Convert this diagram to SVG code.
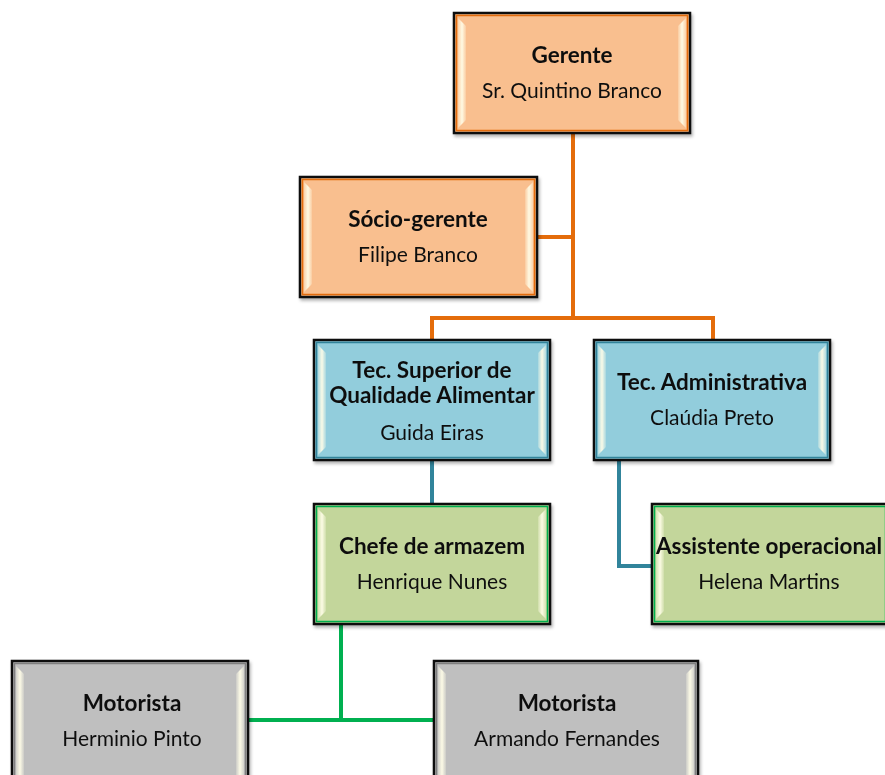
<svg xmlns="http://www.w3.org/2000/svg" width="885" height="775" viewBox="0 0 885 775">
<defs>
<style>
.frame{stroke:#111;stroke-width:2.5}
.t{font-family:Lato,"Liberation Sans",sans-serif;font-size:21px;fill:#111;text-anchor:middle}
.b{font-weight:bold;font-size:22.5px}
.or .frame{fill:#F9BF8F}.or .in{fill:none;stroke:#E46C0A;stroke-width:1.5}
.bl .frame{fill:#92CDDC}.bl .in{fill:none;stroke:#31849B;stroke-width:1.5}
.gr .frame{fill:#C3D69B}.gr .in{fill:none;stroke:#00B050;stroke-width:1.5}
.gy .frame{fill:#BFBFBF}.gy .in{fill:none;stroke:#7F7F7F;stroke-width:1.5}
.hl{fill:url(#hg)}
.hr{fill:url(#hgr)}
.co{fill:none;stroke-width:4;stroke-linejoin:miter}
</style>
<linearGradient id="hg" x1="0" y1="0" x2="1" y2="0">
<stop offset="0" stop-color="#FFFDE8" stop-opacity="0.3"/>
<stop offset="0.5" stop-color="#FFFDE8" stop-opacity="0.95"/>
<stop offset="1" stop-color="#FFFDE8" stop-opacity="0.2"/>
</linearGradient>
<linearGradient id="hgr" x1="1" y1="0" x2="0" y2="0">
<stop offset="0" stop-color="#FFFDE8" stop-opacity="0.3"/>
<stop offset="0.5" stop-color="#FFFDE8" stop-opacity="0.95"/>
<stop offset="1" stop-color="#FFFDE8" stop-opacity="0.2"/>
</linearGradient>
<filter id="sh" x="-5%" y="-5%" width="115%" height="120%">
<feDropShadow dx="1.5" dy="2.5" stdDeviation="1.5" flood-color="#000" flood-opacity="0.3"/>
</filter>
</defs>

<g id="connectors">
<path class="co" stroke="#E46C0A" d="M573 133 V318 M537 237 H573 M432 340 V318 H713 V340"/>
<path class="co" stroke="#31849B" d="M432 460 V504 M619 460 V566 H652"/>
<path class="co" stroke="#00B050" d="M341 624 V720 M248 720 H434"/>
</g>

<g id="gerente" class="or" filter="url(#sh)">
<rect class="frame" x="454" y="13" width="236" height="120"/>
<rect class="in" x="456.5" y="15.5" width="231" height="115"/>
<polygon class="hl" points="458,18 466,26 466,120 458,128"/>
<polygon class="hr" points="686,18 678,26 678,120 686,128"/>
<text class="t b" x="572" y="63">Gerente</text>
<text class="t" x="572" y="98">Sr. Quintino Branco</text>
</g>

<g id="socio" class="or" filter="url(#sh)">
<rect class="frame" x="300" y="177" width="237" height="120"/>
<rect class="in" x="302.5" y="179.5" width="232" height="115"/>
<polygon class="hl" points="304,182 312,190 312,284 304,292"/>
<polygon class="hr" points="533,182 525,190 525,284 533,292"/>
<text class="t b" x="418" y="227">Sócio-gerente</text>
<text class="t" x="418" y="262">Filipe Branco</text>
</g>

<g id="tec-superior" class="bl" filter="url(#sh)">
<rect class="frame" x="314" y="340" width="236" height="120"/>
<rect class="in" x="316.5" y="342.5" width="231" height="115"/>
<polygon class="hl" points="318,345 326,353 326,447 318,455"/>
<polygon class="hr" points="546,345 538,353 538,447 546,455"/>
<text class="t b" x="432" y="378">Tec. Superior de</text>
<text class="t b" x="432" y="403">Qualidade Alimentar</text>
<text class="t" x="432" y="440">Guida Eiras</text>
</g>

<g id="tec-administrativa" class="bl" filter="url(#sh)">
<rect class="frame" x="594" y="340" width="236" height="120"/>
<rect class="in" x="596.5" y="342.5" width="231" height="115"/>
<polygon class="hl" points="598,345 606,353 606,447 598,455"/>
<polygon class="hr" points="826,345 818,353 818,447 826,455"/>
<text class="t b" x="712" y="390">Tec. Administrativa</text>
<text class="t" x="712" y="425">Claúdia Preto</text>
</g>

<g id="chefe" class="gr" filter="url(#sh)">
<rect class="frame" x="314" y="504" width="236" height="120"/>
<rect class="in" x="316.5" y="506.5" width="231" height="115"/>
<polygon class="hl" points="318,509 326,517 326,611 318,619"/>
<polygon class="hr" points="546,509 538,517 538,611 546,619"/>
<text class="t b" x="432" y="554">Chefe de armazem</text>
<text class="t" x="432" y="589">Henrique Nunes</text>
</g>

<g id="assistente" class="gr" filter="url(#sh)">
<rect class="frame" x="652" y="504" width="236" height="120"/>
<rect class="in" x="654.5" y="506.5" width="231" height="115"/>
<polygon class="hl" points="656,509 664,517 664,611 656,619"/>
<text class="t b" x="769" y="554">Assistente operacional</text>
<text class="t" x="769" y="589">Helena Martins</text>
</g>

<g id="motorista-herminio" class="gy" filter="url(#sh)">
<rect class="frame" x="12" y="661" width="236" height="130"/>
<rect class="in" x="14.5" y="663.5" width="231" height="125"/>
<polygon class="hl" points="16,666 24,674 24,780 16,790"/>
<polygon class="hr" points="244,666 236,674 236,780 244,790"/>
<text class="t b" x="132" y="711">Motorista</text>
<text class="t" x="132" y="746">Herminio Pinto</text>
</g>

<g id="motorista-armando" class="gy" filter="url(#sh)">
<rect class="frame" x="434" y="661" width="264" height="130"/>
<rect class="in" x="436.5" y="663.5" width="259" height="125"/>
<polygon class="hl" points="438,666 446,674 446,780 438,790"/>
<polygon class="hr" points="694,666 686,674 686,780 694,790"/>
<text class="t b" x="567" y="711">Motorista</text>
<text class="t" x="567" y="746">Armando Fernandes</text>
</g>
</svg>
